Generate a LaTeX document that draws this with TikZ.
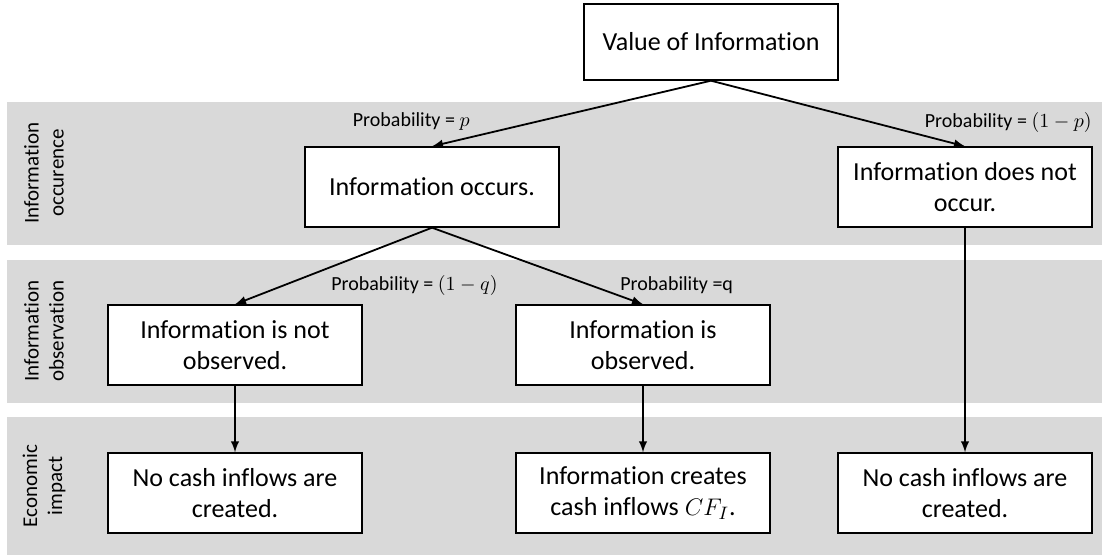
\documentclass[tikz,border=0pt]{standalone}
\usepackage{amsmath}
\usepackage{fontspec}
\setmainfont[Ligatures=NoCommon]{Carlito}
\usepackage{tikz}
\definecolor{bandgray}{RGB}{217,217,217}

\begin{document}
\begin{tikzpicture}[x=0.5pt,y=-0.5pt,
  box/.style={rectangle,draw=black,line width=0.7pt,fill=white,align=center,
    minimum width=127pt,minimum height=40pt,inner sep=2pt,
    font=\fontsize{13}{15.5}\selectfont},
  band/.style={fill=bandgray},
  bandlabel/.style={rotate=90,align=center,font=\fontsize{10.5}{12.5}\selectfont},
  prob/.style={font=\fontsize{10}{12}\selectfont,inner sep=0pt},
  arr/.style={line width=0.9pt,-latex}]
\useasboundingbox (0,0) rectangle (1104,557);
%bands
\fill[band] (7,102) rectangle (1102,245);
\fill[band] (7,260) rectangle (1102,403);
\fill[band] (7,417) rectangle (1102,555);
\path (44,173) node(l1)[bandlabel]{Information\\occurence}
(44,331) node(l2)[bandlabel]{Information\\observation}
(44,486) node(l3)[bandlabel]{Economic\\impact};

\path (711,42) node(voi)[box,minimum height=38pt]{Value of Information}
(432,187) node(occ)[box]{Information occurs.}
(965,187) node(nocc)[box]{Information does not\\occur.}
(235,345) node(nobs)[box]{Information is not\\observed.}
(643,345) node(obs)[box]{Information is\\observed.}
(235,493) node(none1)[box]{No cash inflows are\\created.}
(643,493) node(cash)[box]{Information creates\\cash inflows $CF_I$.}
(965,493) node(none2)[box]{No cash inflows are\\created.};

\draw[arr](voi.south)--(occ.north);
\draw[arr](voi.south)--(nocc.north);
\draw (470,122)node[prob,anchor=east]{Probability = $p$};
\draw (1092,122)node[prob,anchor=east]{Probability = $(1-p)$};
\draw[arr](occ.south)--(nobs.north);
\draw[arr](occ.south)--(obs.north);
\draw (498,285)node[prob,anchor=east]{Probability = $(1-q)$};
\draw (620,285)node[prob,anchor=west]{Probability =q};
\draw[arr](nobs.south)--(none1.north);
\draw[arr](obs.south)--(cash.north);
\draw[arr](nocc.south)--(none2.north);

\end{tikzpicture}
\end{document}
